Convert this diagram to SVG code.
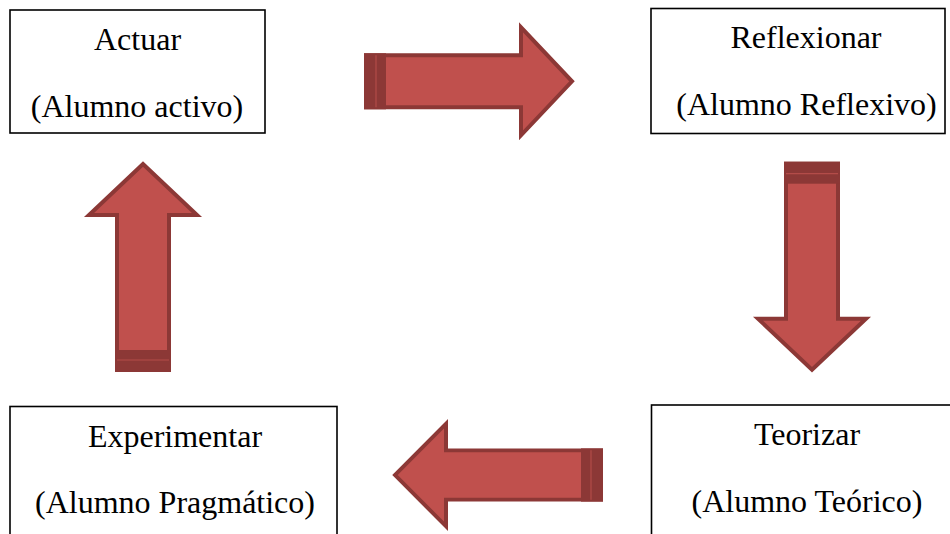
<svg xmlns="http://www.w3.org/2000/svg" width="950" height="534" viewBox="0 0 950 534">
<defs>
<style>
.box{fill:#fff;stroke:#000;stroke-width:1.6}
.t{font-family:"Liberation Serif","Times New Roman",serif;font-size:32px;fill:#000;text-anchor:middle}
.ar{fill:#C0504D;stroke:#8C3836;stroke-width:4;stroke-linejoin:miter;stroke-miterlimit:10}
.st{fill:#8C3836}
.sl{stroke:#B34C49;stroke-width:1.2}
</style>
<g id="arrow">
<path class="ar" d="M2,-26 L157,-26 L157,-54 L208,0 L157,54 L157,26 L2,26 Z"/>
<rect class="st" x="0" y="-28" width="22" height="56"/>
<line class="sl" x1="12" y1="-26" x2="12" y2="26"/>
</g>
</defs>
<rect width="950" height="534" fill="#fff"/>
<g id="actuar">
<rect class="box" x="10" y="10" width="255" height="123"/>
<text class="t" x="137.5" y="50">Actuar</text>
<text class="t" x="137" y="117">(Alumno activo)</text>
</g>
<g id="reflexionar">
<rect class="box" x="651" y="8.5" width="294" height="125"/>
<text class="t" x="806" y="48">Reflexionar</text>
<text class="t" x="806.5" y="115">(Alumno Reflexivo)</text>
</g>
<g id="experimentar">
<rect class="box" x="10" y="406.5" width="327" height="140"/>
<text class="t" x="175" y="447">Experimentar</text>
<text class="t" x="175" y="513">(Alumno Pragmático)</text>
</g>
<g id="teorizar">
<rect class="box" x="651.5" y="405" width="310" height="140"/>
<text class="t" x="807" y="445">Teorizar</text>
<text class="t" x="807" y="512">(Alumno Teórico)</text>
</g>
<g id="connectors">
<use href="#arrow" transform="translate(364,81.3)"/>
<use href="#arrow" transform="translate(812,161.7) rotate(90)"/>
<use href="#arrow" transform="translate(603,475) rotate(180) scale(1,0.95)"/>
<use href="#arrow" transform="translate(143,372) rotate(-90)"/>
</g>
</svg>
